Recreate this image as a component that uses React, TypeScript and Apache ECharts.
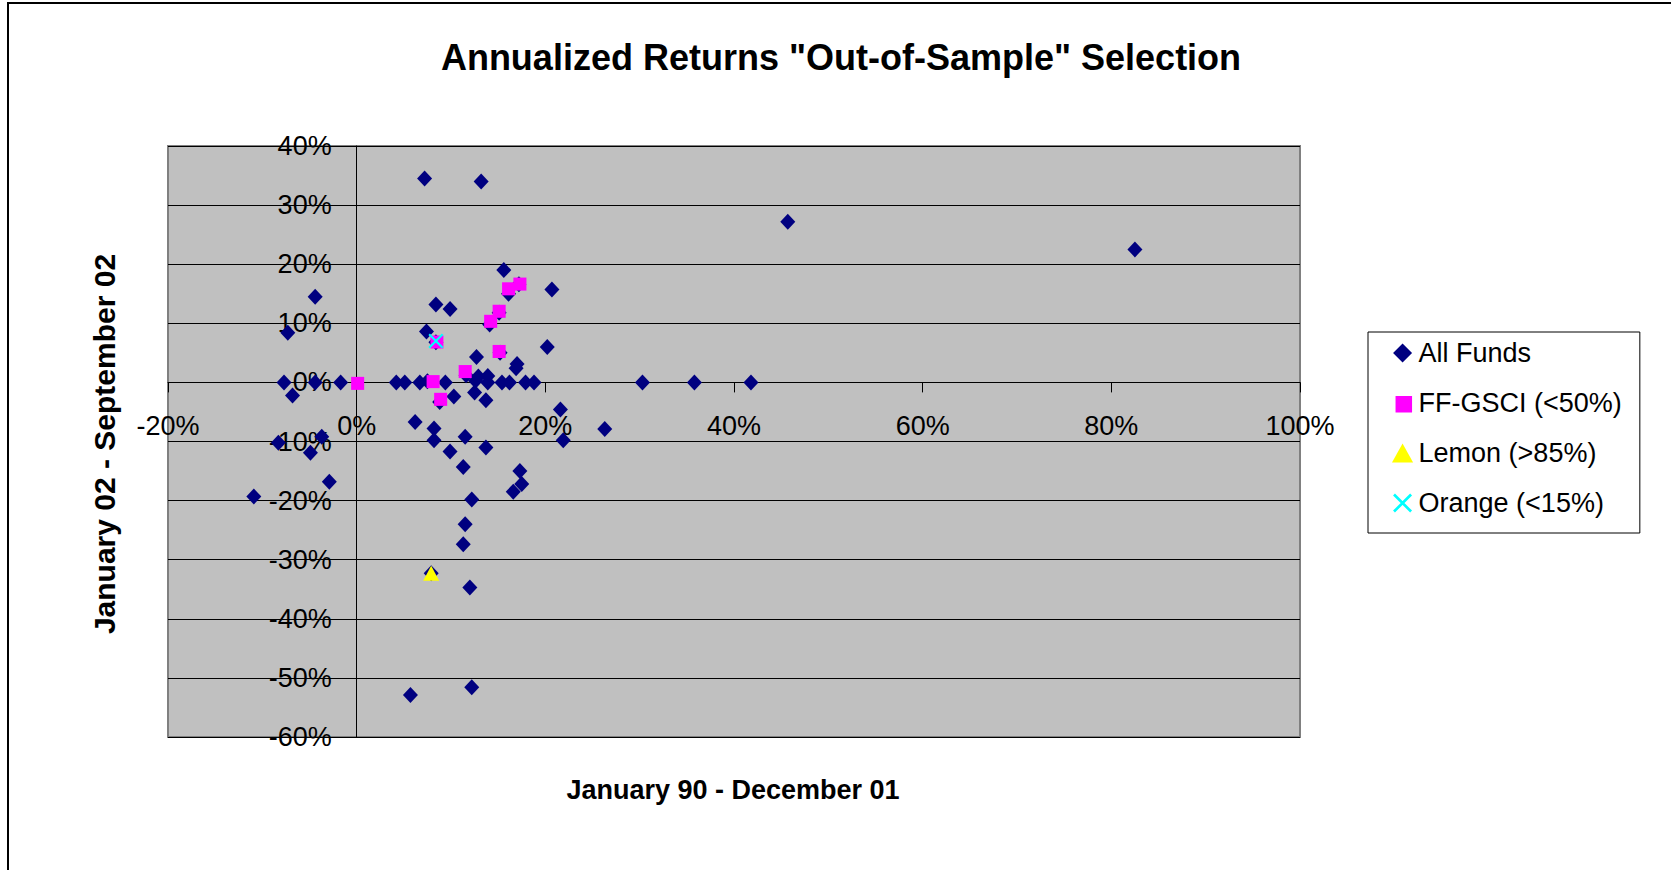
import React, { useEffect, useRef } from "react";
import * as echarts from "echarts";

const chartTitle = 'Annualized Returns "Out-of-Sample" Selection';
const xAxisTitle = "January 90 - December 01";
const yAxisTitle = "January 02 - September 02";

const seriesNames = ["All Funds", "FF-GSCI (<50%)", "Lemon (>85%)", "Orange (<15%)"];

// [x %, y %]
const allFunds: number[][] = [
  [7.2, 34.5], [13.2, 34.0], [45.7, 27.2], [82.5, 22.5],
  [15.6, 19.0], [17.2, 16.6], [16.1, 15.0], [20.7, 15.7],
  [8.4, 13.2], [9.9, 12.4], [-4.4, 14.5], [-7.3, 8.4],
  [15.1, 11.8], [14.1, 9.8], [7.4, 8.6], [8.4, 6.8], [20.2, 6.0], [15.2, 5.0],
  [12.7, 4.3], [17.0, 3.1], [16.9, 2.4], [11.6, 1.2], [12.9, 1.0], [13.9, 1.1],
  [-7.7, 0], [-4.4, 0], [-1.7, 0], [4.2, 0], [5.1, 0], [6.7, 0], [7.5, 0.2], [9.4, 0],
  [12.6, 0.3], [13.9, 0], [15.4, 0], [16.2, 0], [17.9, 0], [18.8, 0], [30.3, 0], [35.8, 0], [41.8, 0],
  [-6.8, -2.2], [8.8, -3.3], [10.3, -2.4], [12.5, -1.7], [13.7, -3.0], [21.6, -4.6],
  [6.2, -6.7], [8.2, -7.8], [26.3, -7.9], [8.2, -9.8], [11.5, -9.2], [13.7, -11.0], [9.9, -11.7], [21.9, -9.8],
  [-8.3, -10.2], [-3.7, -9.2], [-4.9, -11.9], [-2.9, -16.8], [-10.9, -19.3],
  [11.3, -14.3], [17.3, -15.0], [17.5, -17.2], [16.6, -18.5], [12.2, -19.8], [11.5, -24.0],
  [11.3, -27.4], [7.9, -32.3], [12.0, -34.7], [5.7, -52.9], [12.2, -51.6],
];

const ffGsci: number[][] = [
  [0, 0], [8.0, 0.3], [8.8, -2.7], [8.4, 7.0], [11.4, 2.0],
  [15.0, 5.4], [14.1, 10.5], [15.0, 12.2], [16.0, 16.0], [17.2, 16.8],
];

const lemon: number[][] = [[7.9, -32.3]];
const orange: number[][] = [[8.4, 7.0]];

const xMin = -20, xMax = 100, xStep = 20;
const yMin = -60, yMax = 40, yStep = 10;

const FONT = "'Liberation Sans', Arial, sans-serif";
const DIAMOND_SYMBOL = "path://M5,0L10,5L5,10L0,5Z";
const SQUARE_SYMBOL = "path://M-1.5,-1.5M0,0L10,0L10,10L0,10Z";
const TRIANGLE_SYMBOL = "path://M5,0L10,9L0,9Z";
const X_SYMBOL = "path://M0,1L1,0L10,9L9,10ZM9,0L10,1L1,10L0,9Z";

// plot box (grid) in the page
const W = 1671, H = 870;
const G_LEFT = 168, G_TOP = 146, G_RIGHT = 371, G_BOTTOM = 133;
const gridW = W - G_LEFT - G_RIGHT;
const gridH = H - G_TOP - G_BOTTOM;
// move the axes (line, ticks, labels) onto the zero lines, as in the reference
const xAxisOffset = -gridH * (0 - yMin) / (yMax - yMin);
const yAxisOffset = -gridW * (0 - xMin) / (xMax - xMin);

export default function App() {
  const ref = useRef<HTMLDivElement>(null);

  useEffect(() => {
    if (!ref.current) return;
    const chart = echarts.init(ref.current, undefined, { renderer: "svg" });
    chart.setOption({
      animation: false,
      backgroundColor: "#ffffff",
      textStyle: { fontFamily: FONT },
      grid: {
        left: G_LEFT,
        top: G_TOP,
        right: G_RIGHT,
        bottom: G_BOTTOM,
        show: true,
        backgroundColor: "#c0c0c0",
        borderColor: "#808080",
        borderWidth: 2,
      },
      xAxis: {
        type: "value",
        min: xMin,
        max: xMax,
        interval: xStep,
        offset: xAxisOffset,
        axisLine: { onZero: false, lineStyle: { color: "#000", width: 1 } },
        axisTick: { show: true, length: 10, lineStyle: { color: "#000" } },
        axisLabel: {
          margin: 30,
          color: "#000",
          fontSize: 27,
          fontFamily: FONT,
          formatter: "{value}%",
        },
        splitLine: { show: false },
      },
      yAxis: {
        type: "value",
        min: yMin,
        max: yMax,
        interval: yStep,
        offset: yAxisOffset,
        axisLine: { onZero: false, lineStyle: { color: "#000", width: 1 } },
        axisTick: { show: true, length: 9, lineStyle: { color: "#000" } },
        axisLabel: {
          margin: 25,
          color: "#000",
          fontSize: 27,
          fontFamily: FONT,
          formatter: "{value}%",
        },
        splitLine: { show: true, lineStyle: { color: "#000", width: 1 } },
      },
      legend: {
        orient: "vertical",
        left: 1368,
        top: 332,
        padding: [6, 18, 15, 24],
        itemGap: 20,
        itemWidth: 22,
        itemHeight: 19,
        symbolKeepAspect: true,
        backgroundColor: "#fff",
        borderColor: "#000",
        borderWidth: 1,
        selectedMode: false,
        textStyle: { fontSize: 27, lineHeight: 30, color: "#000", fontFamily: FONT },
        data: seriesNames,
      },
      series: [
        {
          name: seriesNames[0],
          type: "scatter",
          symbol: DIAMOND_SYMBOL,
          symbolSize: [15, 16],
          itemStyle: { color: "#000080", opacity: 1 },
          data: allFunds,
        },
        {
          name: seriesNames[1],
          type: "scatter",
          symbol: SQUARE_SYMBOL,
          symbolSize: 15,
          itemStyle: { color: "#ff00ff", opacity: 1 },
          data: ffGsci,
        },
        {
          name: seriesNames[2],
          type: "scatter",
          symbol: TRIANGLE_SYMBOL,
          symbolSize: [16, 15],
          itemStyle: { color: "#ffff00", opacity: 1 },
          data: lemon,
        },
        {
          name: seriesNames[3],
          type: "scatter",
          symbol: X_SYMBOL,
          symbolSize: 15,
          itemStyle: { color: "#00ffff", opacity: 1 },
          data: orange,
        },
      ],
      graphic: [
        {
          type: "rect",
          silent: true,
          shape: { x: 8, y: 3, width: 1700, height: 900 },
          style: { fill: "none", stroke: "#000", lineWidth: 2 },
        },
        {
          type: "text",
          x: 841,
          y: 57,
          style: {
            text: chartTitle,
            font: `bold 36px ${FONT}`,
            fill: "#000",
            align: "center",
            verticalAlign: "middle",
          },
        },
        {
          type: "text",
          x: 733,
          y: 790,
          style: {
            text: xAxisTitle,
            font: `bold 27px ${FONT}`,
            fill: "#000",
            align: "center",
            verticalAlign: "middle",
          },
        },
        {
          type: "text",
          x: 104,
          y: 444,
          rotation: Math.PI / 2,
          style: {
            text: yAxisTitle,
            font: `bold 30px ${FONT}`,
            fill: "#000",
            align: "center",
            verticalAlign: "middle",
          },
        },
      ],
    });
    return () => chart.dispose();
  }, []);

  return (
    <div
      ref={ref}
      style={{ position: "fixed", left: 0, top: 0, width: W, height: H, background: "#fff" }}
    />
  );
}
